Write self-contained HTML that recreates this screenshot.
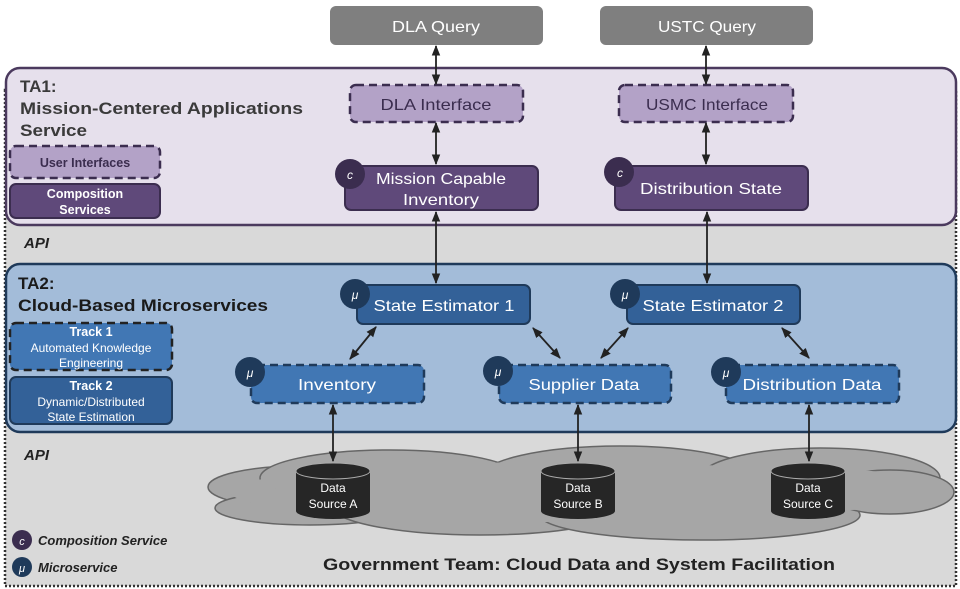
<!DOCTYPE html>
<html><head><meta charset="utf-8"><style>
body{margin:0;background:#fff;}
svg{display:block;font-family:"Liberation Sans","DejaVu Sans",sans-serif;}
</style></head><body>
<svg width="960" height="589" viewBox="0 0 960 589" xmlns="http://www.w3.org/2000/svg">
<defs>
<marker id="a" viewBox="0 0 10 10" refX="9" refY="5" markerWidth="6" markerHeight="6" orient="auto-start-reverse"><path d="M0,1 L10,5 L0,9 z" fill="#222"/></marker>
</defs>
<rect x="5" y="90" width="951" height="496" fill="#d9d9d9" stroke="#333" stroke-width="2.5" stroke-dasharray="2,2"/>
<rect x="330" y="6" width="213" height="39" rx="6" fill="#7f7f7f"/>
<text x="436" y="32" fill="#fff" font-size="16" text-anchor="middle" textLength="88" lengthAdjust="spacingAndGlyphs">DLA Query</text>
<rect x="600" y="6" width="213" height="39" rx="6" fill="#7f7f7f"/>
<text x="707" y="32" fill="#fff" font-size="16" text-anchor="middle" textLength="98" lengthAdjust="spacingAndGlyphs">USTC Query</text>
<rect x="6" y="68" width="950" height="157" rx="14" fill="#e6e0ec" stroke="#4b3a5e" stroke-width="2.5"/>
<text x="20" y="92" font-size="17" font-weight="bold" fill="#3a3a3a">TA1:</text>
<text x="20" y="114" font-size="17" font-weight="bold" fill="#3a3a3a" textLength="283" lengthAdjust="spacingAndGlyphs">Mission-Centered Applications</text>
<text x="20" y="136" font-size="17" font-weight="bold" fill="#3a3a3a" textLength="67" lengthAdjust="spacingAndGlyphs">Service</text>
<rect x="10" y="146" width="150" height="32" rx="6" fill="#b3a2c7" stroke="#3b2d4f" stroke-width="2.5" stroke-dasharray="8,5"/>
<text x="85" y="167" font-size="12.5" font-weight="bold" fill="#3b2d4f" text-anchor="middle">User Interfaces</text>
<rect x="10" y="184" width="150" height="34" rx="6" fill="#5f497a" stroke="#3b2d4f" stroke-width="2"/>
<text x="85" y="198" font-size="12.5" font-weight="bold" fill="#fff" text-anchor="middle">Composition</text>
<text x="85" y="214" font-size="12.5" font-weight="bold" fill="#fff" text-anchor="middle">Services</text>
<rect x="350" y="85" width="173" height="37" rx="6" fill="#b3a2c7" stroke="#3b2d4f" stroke-width="2.5" stroke-dasharray="8,5"/>
<text x="436" y="110" font-size="16" fill="#3b2d4f" text-anchor="middle" textLength="111" lengthAdjust="spacingAndGlyphs">DLA Interface</text>
<rect x="619" y="85" width="174" height="37" rx="6" fill="#b3a2c7" stroke="#3b2d4f" stroke-width="2.5" stroke-dasharray="8,5"/>
<text x="707" y="110" font-size="16" fill="#3b2d4f" text-anchor="middle" textLength="122" lengthAdjust="spacingAndGlyphs">USMC Interface</text>
<rect x="345" y="166" width="193" height="44" rx="6" fill="#5f497a" stroke="#3b2d4f" stroke-width="2"/>
<text x="441" y="184" font-size="16" fill="#fff" text-anchor="middle" textLength="130" lengthAdjust="spacingAndGlyphs">Mission Capable</text>
<text x="441" y="205" font-size="16" fill="#fff" text-anchor="middle" textLength="76" lengthAdjust="spacingAndGlyphs">Inventory</text>
<circle cx="350" cy="174" r="15" fill="#3b2d4f"/>
<text x="350" y="179" font-size="12" font-style="italic" fill="#fff" text-anchor="middle">c</text>
<rect x="615" y="166" width="193" height="44" rx="6" fill="#5f497a" stroke="#3b2d4f" stroke-width="2"/>
<text x="711" y="194" font-size="16" fill="#fff" text-anchor="middle" textLength="142" lengthAdjust="spacingAndGlyphs">Distribution State</text>
<circle cx="619" cy="172" r="15" fill="#3b2d4f"/>
<text x="620" y="177" font-size="12" font-style="italic" fill="#fff" text-anchor="middle">c</text>
<text x="24" y="248" font-size="15" font-weight="bold" font-style="italic" fill="#222">API</text>
<rect x="6" y="264" width="950" height="168" rx="14" fill="#a3bcd9" stroke="#1f3a5a" stroke-width="2.5"/>
<text x="18" y="289" font-size="17" font-weight="bold" fill="#1a1a1a">TA2:</text>
<text x="18" y="311" font-size="17" font-weight="bold" fill="#1a1a1a" textLength="250" lengthAdjust="spacingAndGlyphs">Cloud-Based Microservices</text>
<rect x="10" y="323" width="162" height="47" rx="6" fill="#4177b4" stroke="#222" stroke-width="2.5" stroke-dasharray="8,5"/>
<text x="91" y="336" font-size="12.5" font-weight="bold" fill="#fff" text-anchor="middle">Track 1</text>
<text x="91" y="352" font-size="12" fill="#fff" text-anchor="middle">Automated Knowledge</text>
<text x="91" y="367" font-size="12" fill="#fff" text-anchor="middle">Engineering</text>
<rect x="10" y="377" width="162" height="47" rx="6" fill="#336198" stroke="#1f3a5a" stroke-width="2"/>
<text x="91" y="390" font-size="12.5" font-weight="bold" fill="#fff" text-anchor="middle">Track 2</text>
<text x="91" y="406" font-size="12" fill="#fff" text-anchor="middle">Dynamic/Distributed</text>
<text x="91" y="421" font-size="12" fill="#fff" text-anchor="middle">State Estimation</text>
<rect x="357" y="285" width="173" height="39" rx="6" fill="#336198" stroke="#1f3a5a" stroke-width="2"/>
<text x="444" y="311" font-size="16" fill="#fff" text-anchor="middle" textLength="141" lengthAdjust="spacingAndGlyphs">State Estimator 1</text>
<circle cx="355" cy="294" r="15" fill="#1f3a5a"/>
<text x="355" y="299" font-size="12" font-style="italic" fill="#fff" text-anchor="middle">μ</text>
<rect x="627" y="285" width="173" height="39" rx="6" fill="#336198" stroke="#1f3a5a" stroke-width="2"/>
<text x="713" y="311" font-size="16" fill="#fff" text-anchor="middle" textLength="141" lengthAdjust="spacingAndGlyphs">State Estimator 2</text>
<circle cx="625" cy="294" r="15" fill="#1f3a5a"/>
<text x="625" y="299" font-size="12" font-style="italic" fill="#fff" text-anchor="middle">μ</text>
<rect x="251" y="365" width="173" height="38" rx="6" fill="#4177b4" stroke="#1f3a5a" stroke-width="2.5" stroke-dasharray="8,5"/>
<text x="337" y="390" font-size="16" fill="#fff" text-anchor="middle" textLength="78" lengthAdjust="spacingAndGlyphs">Inventory</text>
<circle cx="250" cy="372" r="15" fill="#1f3a5a"/>
<text x="250" y="377" font-size="12" font-style="italic" fill="#fff" text-anchor="middle">μ</text>
<rect x="499" y="365" width="172" height="38" rx="6" fill="#4177b4" stroke="#1f3a5a" stroke-width="2.5" stroke-dasharray="8,5"/>
<text x="584" y="390" font-size="16" fill="#fff" text-anchor="middle" textLength="111" lengthAdjust="spacingAndGlyphs">Supplier Data</text>
<circle cx="498" cy="371" r="15" fill="#1f3a5a"/>
<text x="498" y="376" font-size="12" font-style="italic" fill="#fff" text-anchor="middle">μ</text>
<rect x="726" y="365" width="173" height="38" rx="6" fill="#4177b4" stroke="#1f3a5a" stroke-width="2.5" stroke-dasharray="8,5"/>
<text x="812" y="390" font-size="16" fill="#fff" text-anchor="middle" textLength="139" lengthAdjust="spacingAndGlyphs">Distribution Data</text>
<circle cx="726" cy="372" r="15" fill="#1f3a5a"/>
<text x="726" y="377" font-size="12" font-style="italic" fill="#fff" text-anchor="middle">μ</text>
<text x="24" y="460" font-size="15" font-weight="bold" font-style="italic" fill="#222">API</text>
<g fill="#a6a6a6" stroke="#666" stroke-width="1.5">
<ellipse cx="300" cy="487" rx="92" ry="21"/>
<ellipse cx="310" cy="508" rx="95" ry="17"/>
<ellipse cx="390" cy="478" rx="130" ry="28"/>
<ellipse cx="480" cy="505" rx="150" ry="30"/>
<ellipse cx="620" cy="478" rx="140" ry="32"/>
<ellipse cx="700" cy="515" rx="160" ry="25"/>
<ellipse cx="820" cy="478" rx="120" ry="30"/>
<ellipse cx="890" cy="492" rx="64" ry="22"/>
</g>
<g fill="#a6a6a6">
<ellipse cx="560" cy="492" rx="330" ry="30"/>
<ellipse cx="350" cy="495" rx="80" ry="18"/>
<ellipse cx="850" cy="490" rx="70" ry="20"/>
</g>
<g>
<path d="M296,471 v40 a37,8 0 0 0 74,0 v-40 z" fill="#262626"/>
<ellipse cx="333" cy="471" rx="37" ry="8" fill="#262626" stroke="#aaa" stroke-width="1"/>
<text x="333" y="492" font-size="12" fill="#fff" text-anchor="middle">Data</text>
<text x="333" y="508" font-size="12" fill="#fff" text-anchor="middle">Source A</text>
<path d="M541,471 v40 a37,8 0 0 0 74,0 v-40 z" fill="#262626"/>
<ellipse cx="578" cy="471" rx="37" ry="8" fill="#262626" stroke="#aaa" stroke-width="1"/>
<text x="578" y="492" font-size="12" fill="#fff" text-anchor="middle">Data</text>
<text x="578" y="508" font-size="12" fill="#fff" text-anchor="middle">Source B</text>
<path d="M771,471 v40 a37,8 0 0 0 74,0 v-40 z" fill="#262626"/>
<ellipse cx="808" cy="471" rx="37" ry="8" fill="#262626" stroke="#aaa" stroke-width="1"/>
<text x="808" y="492" font-size="12" fill="#fff" text-anchor="middle">Data</text>
<text x="808" y="508" font-size="12" fill="#fff" text-anchor="middle">Source C</text>
</g>
<g stroke="#222" stroke-width="1.8" fill="none" marker-start="url(#a)" marker-end="url(#a)">
<line x1="436" y1="46" x2="436" y2="84"/>
<line x1="706" y1="46" x2="706" y2="84"/>
<line x1="436" y1="123" x2="436" y2="164"/>
<line x1="706" y1="123" x2="706" y2="164"/>
<line x1="436" y1="212" x2="436" y2="283"/>
<line x1="707" y1="212" x2="707" y2="283"/>
<line x1="376" y1="327" x2="350" y2="359"/>
<line x1="533" y1="328" x2="560" y2="358"/>
<line x1="628" y1="328" x2="601" y2="358"/>
<line x1="782" y1="328" x2="809" y2="358"/>
<line x1="333" y1="405" x2="333" y2="461"/>
<line x1="578" y1="405" x2="578" y2="461"/>
<line x1="809" y1="405" x2="809" y2="461"/>
</g>
<circle cx="22" cy="540" r="10" fill="#3b2d4f"/>
<text x="22" y="545" font-size="11" font-style="italic" fill="#fff" text-anchor="middle">c</text>
<text x="38" y="545" font-size="13" font-weight="bold" font-style="italic" fill="#222">Composition Service</text>
<circle cx="22" cy="567" r="10" fill="#1f3a5a"/>
<text x="22" y="572" font-size="11" font-style="italic" fill="#fff" text-anchor="middle">μ</text>
<text x="38" y="572" font-size="13" font-weight="bold" font-style="italic" fill="#222">Microservice</text>
<text x="323" y="570" font-size="17" font-weight="bold" fill="#222" textLength="512" lengthAdjust="spacingAndGlyphs">Government Team: Cloud Data and System Facilitation</text>
</svg>
</body></html>
